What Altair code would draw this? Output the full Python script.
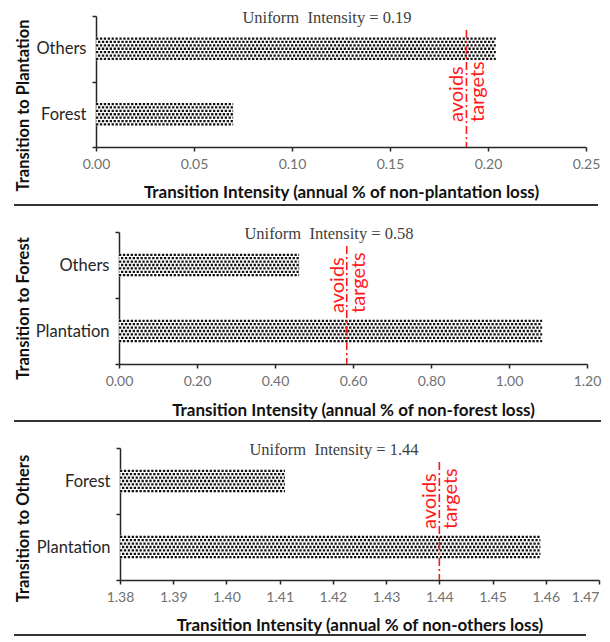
import altair as alt
import pandas as pd

# ---------------- data ----------------
p1_cats = ["Others", "Forest"]
p1_vals = [0.204, 0.070]
p1_uniform = 0.189
p1_label = "Uniform\u00a0 Intensity = 0.19"
p1_ticks = [0.00, 0.05, 0.10, 0.15, 0.20, 0.25]
p1_xtitle = "Transition Intensity (annual % of non-plantation loss)"
p1_ytitle = "Transition to Plantation"

p2_cats = ["Others", "Plantation"]
p2_vals = [0.462, 1.085]
p2_uniform = 0.584
p2_label = "Uniform\u00a0 Intensity = 0.58"
p2_ticks = [0.00, 0.20, 0.40, 0.60, 0.80, 1.00, 1.20]
p2_xtitle = "Transition Intensity (annual % of non-forest loss)"
p2_ytitle = "Transition to Forest"

p3_cats = ["Forest", "Plantation"]
p3_vals = [1.411, 1.459]
p3_uniform = 1.440
p3_label = "Uniform\u00a0 Intensity = 1.44"
p3_ticks = [1.38, 1.39, 1.40, 1.41, 1.42, 1.43, 1.44, 1.45, 1.46, 1.47]
p3_xtitle = "Transition Intensity (annual % of non-others loss)"
p3_ytitle = "Transition to Others"

SANS = "Lato"
RED = "#ff1a1a"
AXIS = "#262626"
ORIGIN = 95  # common plot origin (absolute x on the page)


def panel(cats, vals, uniform, label, ticks, xtitle, ytitle, axis_abs, right_abs,
          h, title_y, label_x, text_y, sep_x2, sep_rel, xtitle_y):
    shift = axis_abs - ORIGIN
    w = right_abs - ORIGIN
    base = ticks[0]
    last = ticks[-1]
    df = pd.DataFrame({"cat": cats, "val": vals, "base": [base] * len(cats)})
    xscale = alt.Scale(domain=[ticks[0], ticks[-1]], nice=False, zero=False,
                       padding=0, range=[shift, w])
    label_align = {"condition": {"test": f"datum.value >= {last - 1e-6} && {right_abs} > 590",
                                 "value": "right"}, "value": "center"}
    xaxis = alt.Axis(values=ticks, format=".2f", title=xtitle, labelFlush=False,
                     labelAlign=label_align,
                     labelFont=SANS, labelFontSize=14, labelColor="#707070",
                     labelPadding=6, tickSize=4, tickColor=AXIS, tickWidth=1.5,
                     domainColor=AXIS, domainWidth=1.5, grid=False,
                     titleFont=SANS, titleFontSize=17, titleFontWeight="bold",
                     titleColor="#111111", titleY=xtitle_y, titleBaseline="middle")
    yaxis = alt.Axis(title=ytitle, tickBand="extent", labelFont=SANS,
                     labelFontSize=16.5, labelColor="#262626", labelPadding=6,
                     tickSize=4, tickColor=AXIS, tickWidth=1.5, offset=-shift,
                     domainColor=AXIS, domainWidth=1.5, grid=False,
                     titleFont=SANS, titleFontSize=16.5, titleFontWeight="bold",
                     titleColor="#111111", titleX=22 - axis_abs, titleY=title_y,
                     titleAngle=270, titleAlign="center", titleBaseline="middle")
    yscale = alt.Scale(paddingInner=0, paddingOuter=0)
    y_enc = alt.Y("cat:N", sort=cats, scale=yscale, axis=yaxis)
    x_base = alt.X("base:Q", scale=xscale, axis=xaxis)

    layers = []
    # white bar body
    layers.append(alt.Chart(df).mark_bar(color="white", size=23).encode(
        x=x_base, x2="val:Q", y=y_enc))
    # dotted texture rows
    offsets = [-10.2, -6.8, -3.4, 0.0, 3.4, 6.8, 10.2]
    for i, off in enumerate(offsets):
        layers.append(alt.Chart(df).mark_rule(
            color="#111111", strokeWidth=2.3, strokeDash=[2.3, 1.6],
            strokeDashOffset=1.9 * (i % 2), yOffset=off).encode(
            x=x_base, x2="val:Q", y=y_enc))
    # uniform intensity line
    udf = pd.DataFrame({"u": [uniform]})
    xu = alt.X("u:Q", scale=xscale, axis=xaxis)
    layers.append(alt.Chart(udf).mark_rule(
        color=RED, strokeWidth=1.6, strokeDash=[8, 3, 2, 3]).encode(
        x=xu, y=alt.value(14), y2=alt.value(h)))
    layers.append(alt.Chart(udf).mark_text(
        text="avoids", angle=270, align="left", baseline="alphabetic", dy=-3,
        font=SANS, fontSize=20, color=RED).encode(x=xu, y=alt.value(text_y)))
    layers.append(alt.Chart(udf).mark_text(
        text="targets", angle=270, align="left", baseline="top", dy=2,
        font=SANS, fontSize=20, color=RED).encode(x=xu, y=alt.value(text_y)))
    # uniform intensity label
    layers.append(alt.Chart(udf).mark_text(
        text=label, font="Liberation Serif", fontSize=16.5, color="#404040",
        baseline="middle").encode(x=alt.value(label_x), y=alt.value(2)))
    # separator line below panel
    layers.append(alt.Chart(udf).mark_rule(color="#333333", strokeWidth=2).encode(
        x=alt.value(13 - ORIGIN), x2=alt.value(sep_x2 - ORIGIN),
        y=alt.value(h + sep_rel)))
    return alt.layer(*layers).properties(width=w, height=h)


c1 = panel(p1_cats, p1_vals, p1_uniform, p1_label, p1_ticks, p1_xtitle, p1_ytitle,
           95, 585, 131, 89, 231, 106, 597, 58, 45)
c2 = panel(p2_cats, p2_vals, p2_uniform, p2_label, p2_ticks, p2_xtitle, p2_ytitle,
           118, 586, 132, 76, 233, 81, 600, 57, 46)
c3 = panel(p3_cats, p3_vals, p3_uniform, p3_label, p3_ticks, p3_xtitle, p3_ytitle,
           119, 598, 132, 80, 238, 81, 585, 55, 45)

chart = alt.vconcat(c1, c2, c3, spacing=18).properties(
    padding={"left": 5, "top": 0, "right": 0, "bottom": 0},
    background="white",
).configure_view(strokeWidth=0, stroke="transparent")

chart.save("out.html", embed_options={"renderer": "svg", "actions": False})
